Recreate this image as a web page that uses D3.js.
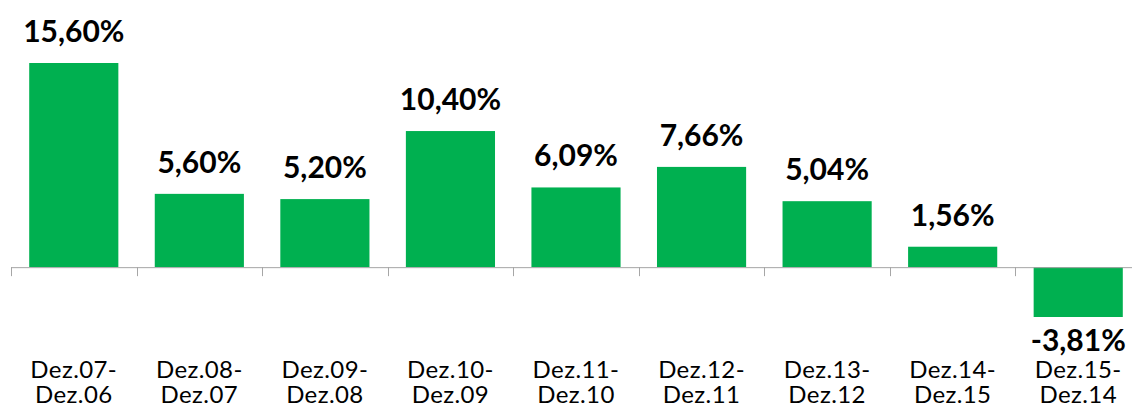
<!DOCTYPE html>
<meta charset="utf-8">
<script src="https://d3js.org/d3.v7.min.js"></script>
<style>
  body { margin: 0; background: #fff; }
  text.value { font-family: Lato, 'Open Sans', sans-serif; font-weight: bold; font-size: 30px; fill: #000; }
  text.cat { font-family: Lato, 'Open Sans', sans-serif; font-size: 24px; letter-spacing: 0.4px; fill: #000; }
</style>
<div id="my_dataviz"></div>
<script>
  // periods (two lines each) and year-on-year change in %
  var periodTop = ["Dez.07-", "Dez.08-", "Dez.09-", "Dez.10-", "Dez.11-", "Dez.12-", "Dez.13-", "Dez.14-", "Dez.15-"];
  var periodBottom = ["Dez.06", "Dez.07", "Dez.08", "Dez.09", "Dez.10", "Dez.11", "Dez.12", "Dez.15", "Dez.14"];
  var values = [15.60, 5.60, 5.20, 10.40, 6.09, 7.66, 5.04, 1.56, -3.81];
  var valueLabels = ["15,60%", "5,60%", "5,20%", "10,40%", "6,09%", "7,66%", "5,04%", "1,56%", "-3,81%"];

  var width = 1132, height = 416;

  var svg = d3.select("#my_dataviz")
    .append("svg")
      .attr("width", width)
      .attr("height", height);

  var x = d3.scaleBand()
    .domain(d3.range(values.length))
    .range([11, 1141])
    .paddingInner(0.29)
    .paddingOuter(0.145);

  // zero at 267, 15.6 -> 63
  var y = d3.scaleLinear()
    .domain([-3.81, 15.60])
    .range([317, 63]);

  // bars
  svg.selectAll("rect.bar")
    .data(values)
    .enter().append("rect")
      .attr("class", "bar")
      .attr("x", function(d, i) { return x(i); })
      .attr("width", x.bandwidth())
      .attr("y", function(d) { return d >= 0 ? y(d) : y(0); })
      .attr("height", function(d) { return Math.abs(y(d) - y(0)); })
      .attr("fill", "#00B050");

  // axis line with ticks between categories
  var step = x.step();
  var axis = svg.append("g").attr("stroke", "#a6a6a6").attr("stroke-width", 1);
  axis.append("line")
    .attr("x1", 11).attr("x2", 1141)
    .attr("y1", y(0) + 0.5).attr("y2", y(0) + 0.5);
  axis.selectAll("line.tick")
    .data(d3.range(values.length + 1))
    .enter().append("line")
      .attr("class", "tick")
      .attr("x1", function(i) { return Math.round(11 + i * step) + 0.5; })
      .attr("x2", function(i) { return Math.round(11 + i * step) + 0.5; })
      .attr("y1", y(0))
      .attr("y2", y(0) + 9);

  // value labels
  svg.selectAll("text.value")
    .data(values)
    .enter().append("text")
      .attr("class", "value")
      .attr("text-anchor", "middle")
      .attr("x", function(d, i) { return x(i) + x.bandwidth() / 2; })
      .attr("y", function(d) { return d >= 0 ? y(d) - 21 : y(d) + 34; })
      .text(function(d, i) { return valueLabels[i]; });

  // category labels, two lines
  svg.selectAll("text.cat.top")
    .data(periodTop)
    .enter().append("text")
      .attr("class", "cat top")
      .attr("text-anchor", "middle")
      .attr("x", function(d, i) { return x(i) + x.bandwidth() / 2; })
      .attr("y", 378)
      .text(function(d) { return d; });
  svg.selectAll("text.cat.bottom")
    .data(periodBottom)
    .enter().append("text")
      .attr("class", "cat bottom")
      .attr("text-anchor", "middle")
      .attr("x", function(d, i) { return x(i) + x.bandwidth() / 2; })
      .attr("y", 403)
      .text(function(d) { return d; });
</script>
